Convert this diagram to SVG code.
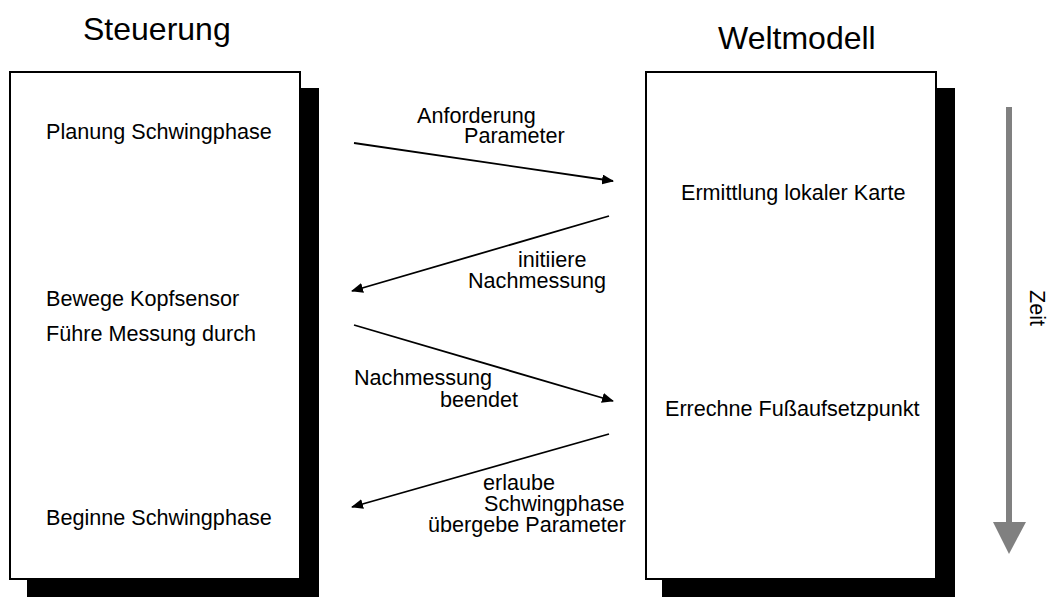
<svg xmlns="http://www.w3.org/2000/svg" width="1049" height="597" viewBox="0 0 1049 597">
  <style>
    .title { font-family: "Liberation Sans", Arial, sans-serif; font-size: 32px; fill: #000; }
    .txt { font-family: "Liberation Sans", Arial, sans-serif; font-size: 21.6px; fill: #000; }
    .box { fill: #fff; stroke: #000; stroke-width: 2; }
    .shadow { fill: #000; }
    .msg { stroke: #000; stroke-width: 1.8; fill: none; marker-end: url(#arrow); }
  </style>
  <defs>
    <marker id="arrow" viewBox="0 0 12 10" refX="11" refY="5" markerWidth="12" markerHeight="10" markerUnits="userSpaceOnUse" orient="auto">
      <path d="M0,0 L12,5 L0,10 Z" fill="#000"/>
    </marker>
  </defs>

  <!-- column headings -->
  <text class="title" x="83" y="40">Steuerung</text>
  <text class="title" x="718" y="49">Weltmodell</text>

  <!-- left lifeline box -->
  <g id="steuerung">
    <rect class="shadow" x="27" y="88" width="292" height="509"/>
    <rect class="box" x="10" y="72" width="290" height="507"/>
    <text class="txt" x="46" y="139">Planung Schwingphase</text>
    <text class="txt" x="46" y="306">Bewege Kopfsensor</text>
    <text class="txt" x="46" y="341">Führe Messung durch</text>
    <text class="txt" x="46" y="525">Beginne Schwingphase</text>
  </g>

  <!-- right lifeline box -->
  <g id="weltmodell">
    <rect class="shadow" x="662" y="88" width="293" height="509"/>
    <rect class="box" x="646" y="72" width="290" height="507"/>
    <text class="txt" x="681" y="200">Ermittlung lokaler Karte</text>
    <text class="txt" x="665" y="416">Errechne Fußaufsetzpunkt</text>
  </g>

  <!-- time axis -->
  <g id="zeit">
    <rect x="1006" y="107" width="6" height="416" fill="#808080"/>
    <path d="M993,522 L1026,522 L1009,554 Z" fill="#808080"/>
    <text class="txt" transform="translate(1030,290) rotate(90)">Zeit</text>
  </g>

  <!-- messages -->
  <g id="connectors">
    <line class="msg" x1="354" y1="143" x2="613" y2="181"/>
    <line class="msg" x1="609" y1="216" x2="352" y2="291"/>
    <line class="msg" x1="354" y1="325" x2="613" y2="401"/>
    <line class="msg" x1="609" y1="434" x2="352" y2="507"/>
  </g>

  <g id="labels">
    <text class="txt" x="417" y="123">Anforderung</text>
    <text class="txt" x="464" y="143">Parameter</text>
    <text class="txt" x="518" y="267">initiiere</text>
    <text class="txt" x="468" y="288">Nachmessung</text>
    <text class="txt" x="354" y="385">Nachmessung</text>
    <text class="txt" x="440" y="407">beendet</text>
    <text class="txt" x="483" y="490">erlaube</text>
    <text class="txt" x="484" y="511">Schwingphase</text>
    <text class="txt" x="428" y="532">übergebe Parameter</text>
  </g>
</svg>
